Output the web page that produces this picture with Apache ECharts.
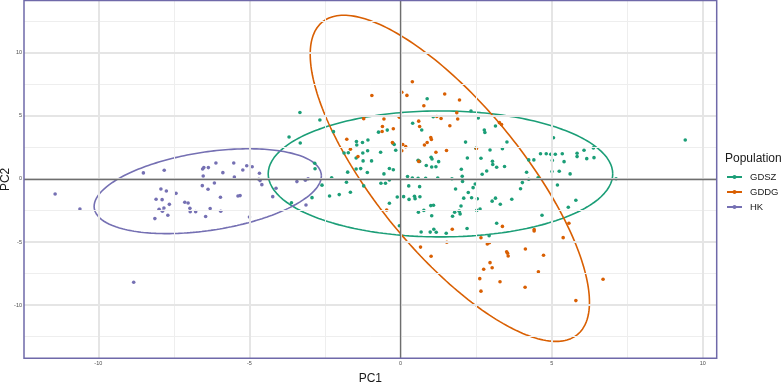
<!DOCTYPE html>
<html><head><meta charset="utf-8">
<script src="https://cdn.jsdelivr.net/npm/echarts@6/dist/echarts.min.js"></script>
<style>html,body{margin:0;padding:0;background:#fff}#c{width:784px;height:383px}</style>
</head><body><div id="c"></div>
<script>
const populations = ['GDSZ', 'GDDG', 'HK'];
const colors = ['#1B9E77', '#D95F02', '#7570B3'];
const legendTitle = 'Population';
const xName = 'PC1';
const yName = 'PC2';

const gdszPC1 = [-3.33,-2.67,-3.69,-3.32,-2.22,-2.84,-2.83,-2.28,-2.60,-2.35,-2.03,-1.66,-1.79,-1.22,-1.75,-1.47,-1.32,-1.47,-1.25,-1.24,-0.96,-1.09,-1.10,-1.87,-1.73,-1.46,-1.45,-1.26,-1.08,-0.66,-0.73,-0.44,-0.65,-0.50,-0.55,-0.37,-0.24,-0.37,-0.25,-0.21,-0.16,-0.04,-0.37,-0.11,0.10,0.23,0.27,0.28,0.46,0.48,0.64,0.39,0.58,0.83,0.63,0.40,0.70,0.88,0.58,0.63,0.85,1.03,1.17,1.01,1.04,1.26,1.00,1.09,0.59,0.77,1.03,0.68,0.98,1.10,1.18,1.51,1.08,1.23,1.70,1.82,1.72,1.79,1.94,1.97,2.00,2.09,2.24,2.01,2.04,2.15,2.21,2.33,2.20,2.40,2.47,2.05,2.35,2.54,2.52,2.63,2.49,2.66,2.70,2.85,3.04,3.05,3.18,2.96,2.57,2.77,2.79,3.14,2.93,3.18,3.03,3.14,3.30,3.44,3.52,3.37,3.68,3.97,4.03,4.17,4.24,4.24,4.41,4.55,4.63,4.82,4.97,5.12,5.02,5.01,5.06,5.19,4.68,5.35,5.84,5.84,6.07,6.16,6.38,6.40,5.41,5.25,5.61,7.13,5.80,5.55,9.42,-3.61,-2.93];
const gdszPC2 = [5.27,4.67,3.33,2.85,3.75,1.24,0.81,0.10,-0.49,-1.35,-1.24,-1.05,-0.26,-0.55,0.54,0.79,0.82,1.66,2.06,1.43,1.43,2.24,0.51,2.06,2.08,2.97,2.69,2.89,3.09,2.12,3.71,3.87,-0.34,-0.34,0.40,0.83,0.73,-0.08,2.83,2.73,2.27,-3.71,-1.92,-1.43,-1.40,0.20,-0.55,-1.62,-1.37,-1.56,-1.41,0.08,0.06,0.06,-0.61,4.41,3.88,6.36,1.48,1.39,1.07,0.95,0.97,1.72,1.58,1.37,-2.11,-2.08,-2.64,-2.49,-2.91,-4.20,-4.21,-3.98,-4.22,-4.30,4.93,0.08,0.02,-0.79,-2.95,-2.64,-2.55,-2.77,-2.14,-1.52,-1.07,0.77,0.22,2.92,1.66,5.39,-3.92,-0.69,-0.40,-0.20,-1.49,-1.57,-2.49,-2.38,2.43,1.64,0.37,0.63,1.40,1.15,0.93,2.30,4.83,3.88,3.68,4.20,-4.49,-3.51,-1.76,-1.52,-2.00,0.99,2.93,2.40,-1.61,-0.78,-0.29,0.53,-0.02,1.51,1.51,0.10,2.00,2.00,1.96,1.96,1.47,0.59,3.27,-0.48,-2.88,2.00,2.04,1.77,2.27,1.61,2.46,1.69,1.37,0.61,0.40,0.02,-1.69,-2.24,3.09,-1.88,-1.48];

const gddgPC1 = [0.39,-0.95,0.04,0.21,0.77,1.46,1.95,-1.22,-0.55,-0.60,-0.61,-0.24,-0.04,0.60,0.63,1.20,1.34,1.86,1.89,1.63,2.51,-1.78,-1.66,-1.41,-0.27,0.07,0.04,0.17,0.79,0.88,1.00,1.02,1.17,1.52,0.60,-0.46,3.27,3.34,1.71,0.66,1.01,1.53,2.66,2.87,2.94,3.37,2.96,3.03,2.75,2.62,2.66,3.29,3.51,3.54,3.56,4.13,4.42,4.42,4.12,4.56,4.73,5.38,5.57,5.80,6.70];
const gddgPC2 = [7.70,6.61,6.87,6.62,5.80,6.73,6.26,4.78,4.75,4.16,3.76,3.98,4.89,4.58,4.16,4.95,4.79,5.25,4.75,4.21,2.42,3.15,2.36,1.77,2.88,2.73,2.24,2.56,2.69,2.89,3.29,3.13,2.12,2.26,1.39,-2.46,4.46,4.32,-3.99,-5.40,-6.13,-5.02,-4.66,-5.15,-5.05,-3.76,-6.63,-7.04,-7.16,-7.90,-8.89,-8.14,-5.77,-5.89,-6.10,-5.55,-4.00,-4.12,-8.58,-7.35,-6.05,-4.65,-3.51,-9.64,-7.95];

const hkPC1 = [-11.43,-10.61,-8.83,-8.51,-7.82,-7.93,-7.75,-8.09,-7.89,-7.65,-7.99,-7.83,-7.88,-7.70,-8.13,-7.43,-7.14,-7.03,-6.97,-6.96,-6.78,-6.45,-6.30,-5.95,-5.96,-6.56,-6.37,-6.16,-6.53,-6.55,-6.51,-6.36,-6.11,-5.88,-5.52,-5.50,-5.38,-5.31,-5.22,-5.09,-4.91,-5.00,-4.67,-4.69,-4.65,-4.59,-4.23,-4.12,-3.43,-3.15,-3.06,-3.13];
const hkPC2 = [-1.19,-2.38,-8.19,0.48,0.69,-0.79,-0.95,-1.61,-1.64,-2.01,-2.40,-2.30,-2.56,-2.88,-3.14,-1.14,-1.85,-1.90,-2.33,-2.59,-2.59,-2.98,-2.35,-2.56,-1.45,-0.53,-0.82,-0.32,0.24,0.79,0.90,0.90,1.27,0.50,1.27,0.16,-1.35,-1.32,0.71,1.05,0.97,-3.01,0.45,-0.02,-0.13,-0.45,-1.40,-0.74,-0.21,-0.10,0.02,-2.06];

// 95% ellipse: centre, half-extent along PC1 / PC2, correlation
const ellipseCentrePC1 = [1.32, 1.63, -6.38];
const ellipseCentrePC2 = [0.40, 0.05, -0.97];
const ellipseHalfPC1 = [5.70, 4.62, 3.76];
const ellipseHalfPC2 = [4.99, 12.92, 3.36];
const ellipseCorr = [0.0, -0.76, 0.36];

const xTicks = [-10, -5, 0, 5, 10];
const yTicks = [-10, -5, 0, 5, 10];
const xMinor = [-7.5, -2.5, 2.5, 7.5];
const yMinor = [-12.5, -7.5, -2.5, 2.5, 7.5, 12.5];
const xRange = [-12.46, 10.46];
const yRange = [-14.21, 14.14];

const pc1 = [gdszPC1, gddgPC1, hkPC1];
const pc2 = [gdszPC2, gddgPC2, hkPC2];

function ellipse(i) {
  const pts = [];
  const d = Math.acos(ellipseCorr[i]);
  const n = 240;
  for (let k = 0; k <= n; k++) {
    const t = 2 * Math.PI * k / n;
    pts.push([ellipseCentrePC1[i] + ellipseHalfPC1[i] * Math.cos(t),
              ellipseCentrePC2[i] + ellipseHalfPC2[i] * Math.cos(t + d)]);
  }
  return pts;
}

const FONT = '"Liberation Sans", Arial, sans-serif';
const series = [];

const gridMarks = [];
xMinor.forEach(v => gridMarks.push({xAxis: v, lineStyle: {color: '#eeeeee', width: 1, type: 'solid'}}));
yMinor.forEach(v => gridMarks.push({yAxis: v, lineStyle: {color: '#eeeeee', width: 1, type: 'solid'}}));
xTicks.forEach(v => gridMarks.push({xAxis: v, lineStyle: {color: '#e5e5e5', width: 2, type: 'solid'}}));
yTicks.forEach(v => gridMarks.push({yAxis: v, lineStyle: {color: '#e5e5e5', width: 2, type: 'solid'}}));
gridMarks.push({xAxis: 0, lineStyle: {color: '#6e6e6e', width: 1.3, type: 'solid'}});
gridMarks.push({yAxis: 0, lineStyle: {color: '#6e6e6e', width: 1.3, type: 'solid'}});
series.push({
  type: 'line', name: '_grid', data: [], silent: true, z: 1,
  markLine: {silent: true, symbol: ['none', 'none'], label: {show: false}, animation: false, data: gridMarks}
});

populations.forEach((p, i) => {
  series.push({
    type: 'line', name: p, data: ellipse(i), showSymbol: false, symbol: 'circle', symbolSize: 4,
    smooth: false, z: 3,
    lineStyle: {color: colors[i], width: 1.6}, itemStyle: {color: colors[i]}, animation: false
  });
});
populations.forEach((p, i) => {
  series.push({
    type: 'scatter', name: p, z: 4, symbolSize: 3.6,
    data: pc1[i].map((v, k) => [v, pc2[i][k]]),
    itemStyle: {color: colors[i], opacity: 1}, animation: false
  });
});

const chart = echarts.init(document.getElementById('c'), null, {renderer: 'canvas'});
chart.setOption({
  animation: false,
  backgroundColor: '#ffffff',
  title: {text: legendTitle, left: 725, top: 152.5, padding: 0,
          textStyle: {fontFamily: FONT, fontSize: 12, fontWeight: 'normal', color: '#1a1a1a'}},
  legend: {
    data: populations, orient: 'vertical', left: 726, top: 172, padding: 0,
    itemWidth: 15, itemHeight: 5, itemGap: 5,
    textStyle: {fontFamily: FONT, fontSize: 9.5, color: '#1a1a1a', padding: [0, 0, 0, 3]}
  },
  grid: {left: 24, right: 67.3, top: 0.5, bottom: 24.7, containLabel: false, outerBoundsMode: 'none',
         show: true, borderColor: '#6f69a9', borderWidth: 1.5, backgroundColor: 'transparent', z: 10},
  xAxis: {
    type: 'value', min: xRange[0], max: xRange[1],
    name: xName, nameLocation: 'middle', nameGap: 14.5, nameMoveOverlap: false,
    nameTextStyle: {fontFamily: FONT, fontSize: 12, color: '#1a1a1a'},
    splitLine: {show: false}, axisLine: {show: false},
    axisTick: {show: true, length: 2, customValues: xTicks, lineStyle: {color: '#333'}},
    axisLabel: {customValues: xTicks, fontSize: 5.5, color: '#4d4d4d', margin: 2, fontFamily: FONT}
  },
  yAxis: {
    type: 'value', min: yRange[0], max: yRange[1],
    name: yName, nameLocation: 'middle', nameGap: 12.5, nameRotate: 90, nameMoveOverlap: false,
    nameTextStyle: {fontFamily: FONT, fontSize: 12, color: '#1a1a1a'},
    splitLine: {show: false}, axisLine: {show: false},
    axisTick: {show: true, length: 2, customValues: yTicks, lineStyle: {color: '#333'}},
    axisLabel: {customValues: yTicks, fontSize: 5.5, color: '#4d4d4d', margin: 2, fontFamily: FONT}
  },
  series: series
});
</script></body></html>
